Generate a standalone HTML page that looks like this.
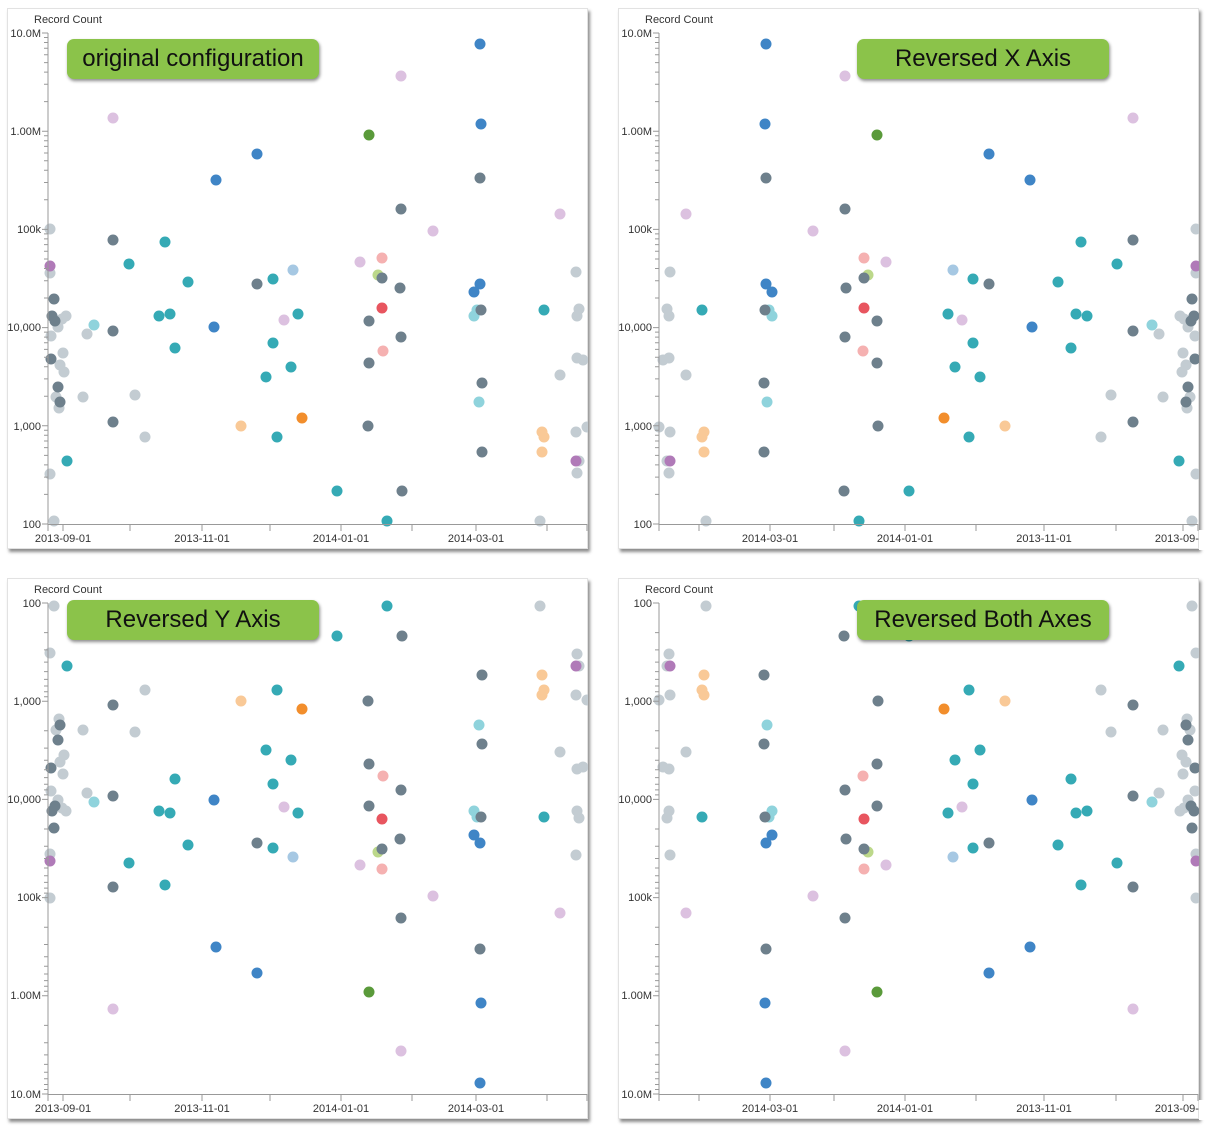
<!DOCTYPE html>
<html><head><meta charset="utf-8"><style>
body{margin:0;width:1210px;height:1131px;background:#fff;position:relative;overflow:hidden;font-family:"Liberation Sans",sans-serif}
.p{position:absolute;width:579px;height:539px;background:#fff;border:1px solid #e2e2e2;box-shadow:2px 3px 3px rgba(0,0,0,.45)}
.b{position:absolute;width:252px;height:40px;background:#8bc34a;border-radius:7px;box-shadow:1px 2px 3px rgba(0,0,0,.45);font-size:24px;line-height:40px;text-align:center;color:#111}
svg{position:absolute;left:0;top:0}
</style></head><body>
<div class="p" style="left:7px;top:8px"></div>
<div class="p" style="left:618px;top:8px"></div>
<div class="p" style="left:7px;top:578px"></div>
<div class="p" style="left:618px;top:578px"></div>
<svg width="1210" height="1131" viewBox="0 0 1210 1131">
<defs>
<clipPath id="c1"><rect x="8" y="9" width="580" height="539"/></clipPath>
<g id="dots">
<g fill="#c3ccd2">
<circle cx="50" cy="229" r="5.5"/><circle cx="50" cy="273" r="5.5"/><circle cx="66" cy="316" r="5.5"/><circle cx="62" cy="319" r="5.5"/><circle cx="58" cy="327" r="5.5"/><circle cx="87" cy="334" r="5.5"/><circle cx="51" cy="336" r="5.5"/><circle cx="63" cy="353" r="5.5"/><circle cx="60" cy="365" r="5.5"/><circle cx="64" cy="372" r="5.5"/><circle cx="56" cy="397" r="5.5"/><circle cx="83" cy="397" r="5.5"/><circle cx="135" cy="395" r="5.5"/><circle cx="59" cy="408" r="5.5"/><circle cx="145" cy="437" r="5.5"/><circle cx="50" cy="474" r="5.5"/><circle cx="54" cy="521" r="5.5"/>
<circle cx="576" cy="272" r="5.5"/><circle cx="579" cy="309" r="5.5"/><circle cx="577" cy="316" r="5.5"/><circle cx="577" cy="358" r="5.5"/><circle cx="583" cy="360" r="5.5"/><circle cx="560" cy="375" r="5.5"/><circle cx="576" cy="432" r="5.5"/><circle cx="587" cy="427" r="5.5"/><circle cx="579" cy="461" r="5.5"/><circle cx="577" cy="473" r="5.5"/><circle cx="540" cy="521" r="5.5"/>
</g>
<g fill="#dcc1e0"><circle cx="113" cy="118" r="5.5"/><circle cx="401" cy="76" r="5.5"/><circle cx="433" cy="231" r="5.5"/><circle cx="360" cy="262" r="5.5"/><circle cx="284" cy="320" r="5.5"/><circle cx="560" cy="214" r="5.5"/></g>
<g fill="#b07ab8"><circle cx="50" cy="266" r="5.5"/><circle cx="576" cy="461" r="5.5"/></g>
<g fill="#8fd3dc"><circle cx="94" cy="325" r="5.5"/><circle cx="477" cy="310" r="5.5"/><circle cx="474" cy="316" r="5.5"/><circle cx="479" cy="402" r="5.5"/></g>
<g fill="#a6c8e3"><circle cx="293" cy="270" r="5.5"/></g>
<g fill="#f9c997"><circle cx="241" cy="426" r="5.5"/><circle cx="542" cy="432" r="5.5"/><circle cx="544" cy="437" r="5.5"/><circle cx="542" cy="452" r="5.5"/></g>
<g fill="#f5b1b1"><circle cx="382" cy="258" r="5.5"/><circle cx="383" cy="351" r="5.5"/></g>
<g fill="#bcd88a"><circle cx="378" cy="275" r="5.5"/></g>
<g fill="#6e808c">
<circle cx="113" cy="240" r="5.5"/><circle cx="54" cy="299" r="5.5"/><circle cx="52" cy="316" r="5.5"/><circle cx="55" cy="321" r="5.5"/><circle cx="113" cy="331" r="5.5"/><circle cx="51" cy="359" r="5.5"/><circle cx="58" cy="387" r="5.5"/><circle cx="60" cy="402" r="5.5"/><circle cx="113" cy="422" r="5.5"/>
<circle cx="401" cy="209" r="5.5"/><circle cx="257" cy="284" r="5.5"/><circle cx="382" cy="278" r="5.5"/><circle cx="400" cy="288" r="5.5"/><circle cx="369" cy="321" r="5.5"/><circle cx="401" cy="337" r="5.5"/><circle cx="369" cy="363" r="5.5"/><circle cx="368" cy="426" r="5.5"/><circle cx="402" cy="491" r="5.5"/>
<circle cx="480" cy="178" r="5.5"/><circle cx="481" cy="310" r="5.5"/><circle cx="482" cy="383" r="5.5"/><circle cx="482" cy="452" r="5.5"/>
</g>
<g fill="#35aab5">
<circle cx="165" cy="242" r="5.5"/><circle cx="129" cy="264" r="5.5"/><circle cx="188" cy="282" r="5.5"/><circle cx="159" cy="316" r="5.5"/><circle cx="170" cy="314" r="5.5"/><circle cx="175" cy="348" r="5.5"/><circle cx="67" cy="461" r="5.5"/>
<circle cx="273" cy="279" r="5.5"/><circle cx="298" cy="314" r="5.5"/><circle cx="273" cy="343" r="5.5"/><circle cx="291" cy="367" r="5.5"/><circle cx="266" cy="377" r="5.5"/><circle cx="277" cy="437" r="5.5"/><circle cx="337" cy="491" r="5.5"/><circle cx="387" cy="521" r="5.5"/><circle cx="544" cy="310" r="5.5"/>
</g>
<g fill="#3f85c6"><circle cx="216" cy="180" r="5.5"/><circle cx="257" cy="154" r="5.5"/><circle cx="214" cy="327" r="5.5"/><circle cx="480" cy="44" r="5.5"/><circle cx="481" cy="124" r="5.5"/><circle cx="480" cy="284" r="5.5"/><circle cx="474" cy="292" r="5.5"/></g>
<g fill="#5a9a3a"><circle cx="369" cy="135" r="5.5"/></g>
<g fill="#f28e2c"><circle cx="302" cy="418" r="5.5"/></g>
<g fill="#e8555f"><circle cx="382" cy="308" r="5.5"/></g>
</g>
<g id="yax" stroke="#999" stroke-width="1" fill="none">
<path d="M48 33V524M42 33H48M42 131.2H48M42 229.4H48M42 327.6H48M42 425.8H48M42 524H48"/>
<path d="M44 494.4H48M44 477.1H48M44 464.9H48M44 455.4H48M44 447.6H48M44 441H48M44 435.3H48M44 430.3H48M44 396.2H48M44 378.9H48M44 366.7H48M44 357.2H48M44 349.4H48M44 342.8H48M44 337.1H48M44 332.1H48M44 298H48M44 280.7H48M44 268.5H48M44 259H48M44 251.2H48M44 244.6H48M44 238.9H48M44 233.9H48M44 199.8H48M44 182.5H48M44 170.3H48M44 160.8H48M44 153H48M44 146.4H48M44 140.7H48M44 135.7H48M44 101.6H48M44 84.3H48M44 72.1H48M44 62.6H48M44 54.8H48M44 48.2H48M44 42.5H48M44 37.5H48"/>
</g>
<g id="xax" stroke="#999" stroke-width="1" fill="none">
<path d="M48 524.5H587M48 524V531M63 524V531M130 524V531M202 524V531M270 524V531M341 524V531M412 524V531M476 524V531M547 524V531M587 524V531"/>
</g>
</defs>
<!-- panel 1 -->
<g clip-path="url(#c1)"><use href="#dots"/></g>
<use href="#yax"/><use href="#xax"/>
<!-- panel 2 -->
<g clip-path="url(#c1)" transform="translate(611,0)"><g transform="translate(635,0) scale(-1,1)"><use href="#dots"/></g></g>
<use href="#yax" transform="translate(611,0)"/>
<use href="#xax" transform="translate(1246,0) scale(-1,1)"/>
<!-- panel 3 -->
<g clip-path="url(#c1)" transform="translate(0,570)"><g transform="translate(0,557) scale(1,-1)"><use href="#dots"/></g></g>
<use href="#yax" transform="translate(0,1127) scale(1,-1)"/>
<use href="#xax" transform="translate(0,570)"/>
<!-- panel 4 -->
<g clip-path="url(#c1)" transform="translate(611,570)"><g transform="translate(635,557) scale(-1,-1)"><use href="#dots"/></g></g>
<use href="#yax" transform="translate(611,1127) scale(1,-1)"/>
<use href="#xax" transform="translate(1246,570) scale(-1,1)"/>

<g font-family="Liberation Sans, sans-serif" font-size="11" fill="#333">
<text x="34" y="23">Record Count</text>
<text x="645" y="23">Record Count</text>
<text x="34" y="593">Record Count</text>
<text x="645" y="593">Record Count</text>
<g text-anchor="end">
<text x="41" y="37">10.0M</text><text x="41" y="135">1.00M</text><text x="41" y="233">100k</text><text x="41" y="331">10,000</text><text x="41" y="430">1,000</text><text x="41" y="528">100</text>
<text x="652" y="37">10.0M</text><text x="652" y="135">1.00M</text><text x="652" y="233">100k</text><text x="652" y="331">10,000</text><text x="652" y="430">1,000</text><text x="652" y="528">100</text>
<text x="41" y="607">100</text><text x="41" y="705">1,000</text><text x="41" y="803">10,000</text><text x="41" y="901">100k</text><text x="41" y="999">1.00M</text><text x="41" y="1098">10.0M</text>
<text x="652" y="607">100</text><text x="652" y="705">1,000</text><text x="652" y="803">10,000</text><text x="652" y="901">100k</text><text x="652" y="999">1.00M</text><text x="652" y="1098">10.0M</text>
</g>
<g text-anchor="middle">
<text x="63" y="542">2013-09-01</text><text x="202" y="542">2013-11-01</text><text x="341" y="542">2014-01-01</text><text x="476" y="542">2014-03-01</text>
<text x="770" y="542">2014-03-01</text><text x="905" y="542">2014-01-01</text><text x="1044" y="542">2013-11-01</text><text x="1183" y="542">2013-09-01</text>
<text x="63" y="1112">2013-09-01</text><text x="202" y="1112">2013-11-01</text><text x="341" y="1112">2014-01-01</text><text x="476" y="1112">2014-03-01</text>
<text x="770" y="1112">2014-03-01</text><text x="905" y="1112">2014-01-01</text><text x="1044" y="1112">2013-11-01</text><text x="1183" y="1112">2013-09-01</text>
</g>
</g>
<rect x="1199" y="530" width="11" height="20" fill="#fff"/>
<rect x="1199" y="1100" width="11" height="20" fill="#fff"/>
</svg>
<div class="b" style="left:67px;top:39px">original configuration</div>
<div class="b" style="left:857px;top:39px">Reversed X Axis</div>
<div class="b" style="left:67px;top:600px">Reversed Y Axis</div>
<div class="b" style="left:857px;top:600px">Reversed Both Axes</div>
</body></html>
